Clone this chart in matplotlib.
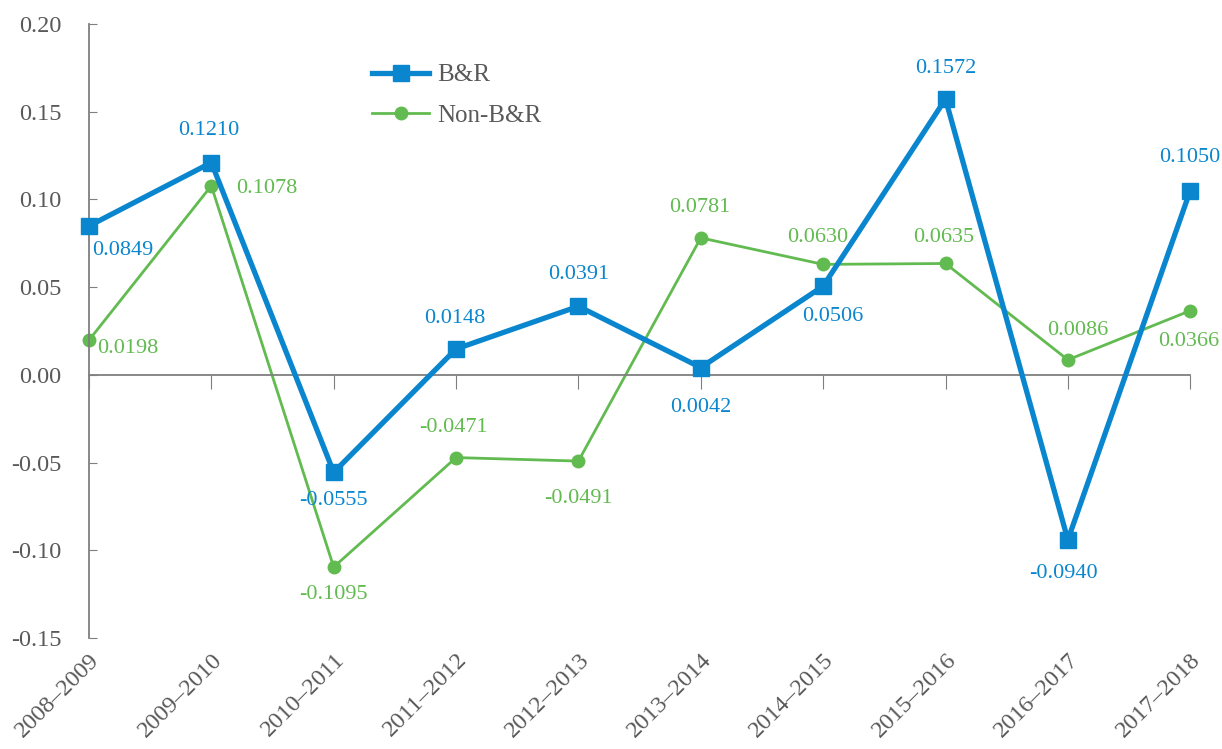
import matplotlib
matplotlib.use("Agg")
import matplotlib.pyplot as plt

categories = ["2008–2009", "2009–2010", "2010–2011", "2011–2012", "2012–2013",
              "2013–2014", "2014–2015", "2015–2016", "2016–2017", "2017–2018"]
br = [0.0849, 0.1210, -0.0555, 0.0148, 0.0391, 0.0042, 0.0506, 0.1572, -0.0940, 0.1050]
nonbr = [0.0198, 0.1078, -0.1095, -0.0471, -0.0491, 0.0781, 0.0630, 0.0635, 0.0086, 0.0366]
yticks = [-0.15, -0.10, -0.05, 0.00, 0.05, 0.10, 0.15, 0.20]

# label offsets in points (dx, dy)
br_off = [(24, -18), (-2, 23), (0, -20), (-1, 22), (0, 23), (0, -29), (7, -22), (0, 22), (-3, -24), (0, 24)]
nb_off = [(28, -6), (40, -2), (0, -20), (-2, 22), (0, -27), (-1, 22), (-4, 19), (-1, 19), (7, 21), (-1, -22)]

plt.rcParams['font.family'] = ['Liberation Serif', 'DejaVu Serif']
blue = '#0a86cf'
green = '#62bb50'
grey = '#7f7f7f'
textc = '#595959'

fig = plt.figure(figsize=(12.22, 7.49), dpi=100)
ax = fig.add_axes([0.0728, 0.148, 0.9012, 0.820])
x = list(range(len(categories)))
ax.plot(x, br, color=blue, lw=3.8, marker='s', ms=11, label='B&R', zorder=3, clip_on=False)
ax.plot(x, nonbr, color=green, lw=2.0, marker='o', ms=9, label='Non-B&R', zorder=2, clip_on=False)

for i, v in enumerate(br):
    dx, dy = br_off[i]
    ax.annotate(f"{v:.4f}", (i, v), xytext=(dx, dy), textcoords='offset points',
                ha='center', va='center', color=blue, fontsize=16)
for i, v in enumerate(nonbr):
    dx, dy = nb_off[i]
    ax.annotate(f"{v:.4f}", (i, v), xytext=(dx, dy), textcoords='offset points',
                ha='center', va='center', color=green, fontsize=16)

ax.set_xlim(0, len(categories) - 1)
ax.set_ylim(-0.15, 0.20)
ax.set_yticks(yticks)
ax.set_yticklabels([f"{t:.2f}" for t in yticks])
ax.tick_params(axis='y', direction='in', length=6, color=grey, labelsize=17.5, labelcolor=textc, pad=20)
ax.spines['right'].set_visible(False)
ax.spines['top'].set_visible(False)
ax.spines['left'].set_color(grey)
ax.spines['left'].set_linewidth(1.3)
ax.spines['bottom'].set_position(('data', 0))
ax.spines['bottom'].set_color(grey)
ax.spines['bottom'].set_linewidth(1.3)
ax.set_xticks(x)
ax.tick_params(axis='x', direction='out', length=10, color=grey, labelbottom=False)

sec = ax.secondary_xaxis('bottom')
sec.set_xticks(x)
sec.set_xticklabels(categories, rotation=45, ha='right', rotation_mode='anchor')
sec.tick_params(length=0, labelsize=17.5, labelcolor=textc, pad=8)
sec.spines['bottom'].set_visible(False)

leg = ax.legend(loc='upper left', bbox_to_anchor=(0.257, 0.935), frameon=False, fontsize=18,
                handlelength=2.3, handletextpad=0.3, labelspacing=0.72, borderpad=0,
                borderaxespad=0, labelcolor=textc)

fig.savefig('out.png', dpi=100)
